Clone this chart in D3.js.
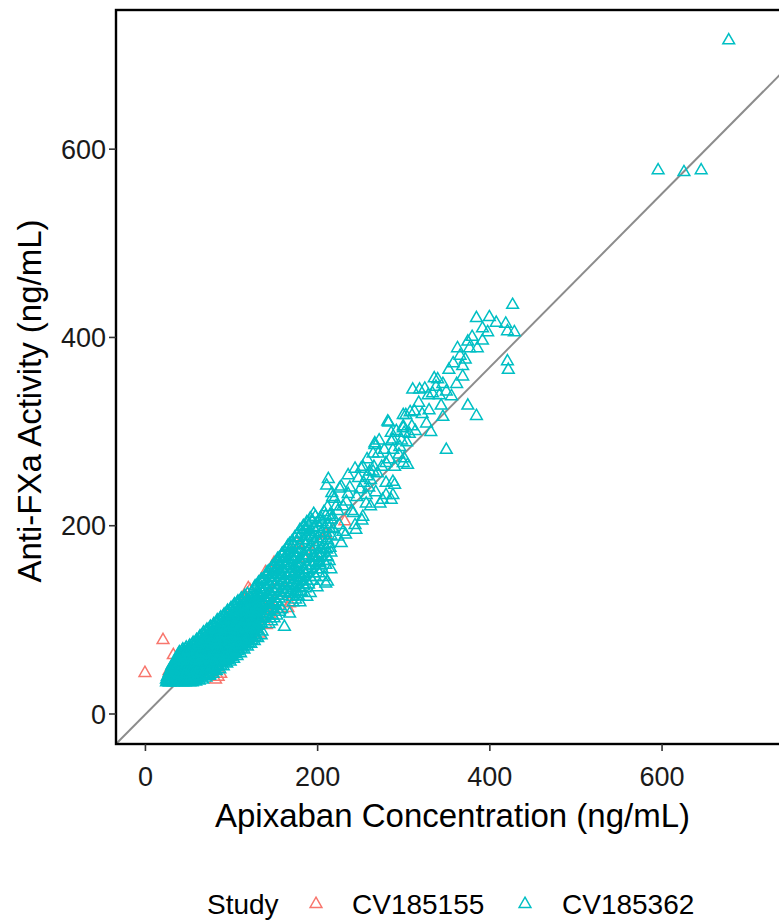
<!DOCTYPE html>
<html>
<head>
<meta charset="utf-8">
<script src="https://cdn.jsdelivr.net/npm/d3@7/dist/d3.min.js"></script>
<style>
  html, body { margin: 0; padding: 0; background: #fff; }
  svg { display: block; }
  text { font-family: "Liberation Sans", Arial, Helvetica, sans-serif; }
</style>
</head>
<body>
<svg id="chart" width="779" height="920"></svg>
<script>
// ---------------- DATA ----------------
const studies = ["CV185155", "CV185362"];
const studyColors = ["#F8766D", "#00BFC4"];
const xTicks = [0, 200, 400, 600];
const yTicks = [0, 200, 400, 600];
const xLabel = "Apixaban Concentration (ng/mL)";
const yLabel = "Anti-FXa Activity (ng/mL)";
const legendTitle = "Study";
const refSlope = 0.922;
const refIntercept = -1.4;

// CV185155 (red) [conc, activity]
const cv185155 = [
  [0,43],[21,78],[33,62],[28,45],[40,50],[79,43],[85,39],[82,36],[88,42],
  [122,131],[120,133],[168,117],[166,112],[141,94],[133,85],[176,181],[232,204],
  [60,45],[70,55],[95,70],[105,80],[110,72],[115,90],[125,88],[130,100],[150,110],
  [155,125],[160,140],[100,110],[90,95],[75,80],[65,70],[50,40],[45,55],[140,150],
  [145,105],[175,145],[185,165],[195,170],[210,190],[150,160],[115,120],[128,95],
  [135,118],[118,78],[92,60],[102,66]
];

// CV185362 (cyan), dense low-range band, odd columns: [conc, [activities]]
const cv185362BandA = [
  [25,[33,36]],[27,[34,40]],[29,[33,38,45]],[31,[35,42,50]],[33,[33,39,47]],
  [35,[36,44,52]],[37,[34,41,49,57]],[39,[33,38,46,55,63]],[41,[35,43,51,60]],
  [43,[34,40,48,58,66]],[45,[36,45,53,62]],[47,[33,41,50,59,68]],[49,[35,44,55,64]],
  [51,[34,40,49,58,70]],[53,[37,46,56,66]],[55,[33,43,52,61,73]],[57,[36,48,58,68]],
  [59,[34,42,53,63,76]],[61,[38,50,60,71]],[63,[35,46,56,66,80]],[65,[40,52,62,74]],
  [67,[36,47,59,69,84]],[69,[42,55,65,77]],[71,[38,50,61,72,87]],[73,[44,57,68,80]],
  [75,[40,53,64,75,90]],[77,[46,60,71,83]],[79,[42,55,67,78,93]],[81,[48,62,74,86]],
  [83,[45,58,70,81,96]],[85,[51,64,77,89]],[87,[47,60,73,85,100]],[89,[54,67,80,92]],
  [91,[50,63,76,88,103]],[93,[56,70,83,96]],[95,[53,66,79,91,107]],[97,[59,73,86,99]],
  [99,[55,69,82,95,110]],[101,[62,76,89,102]],[103,[58,72,85,98,114]],[105,[65,79,92,106]],
  [107,[61,75,88,101,117]],[109,[68,82,95,109]],[111,[64,78,91,104,120]],[113,[71,85,98,112]],
  [115,[68,81,94,108,123]],[117,[74,88,101,115]],[119,[71,84,97,111,127]],[121,[77,91,104,118]],
  [123,[74,87,100,114]],[125,[80,94,107,121]],[127,[77,90,103,117,133]],[129,[83,97,110,124]],
  [131,[80,93,106,120,137]],[133,[100,113,127]],[135,[83,96,109,123,140]],
  [138,[103,116,131,143]],[141,[106,120,134,147]],[144,[95,109,123,137,151]],
  [147,[98,112,126,140,154]],[150,[101,115,129,144,158]],[153,[104,118,132,147,161]],
  [156,[108,122,136,150,165]],[159,[111,125,139,153,169]],[162,[128,142,157,172]],
  [165,[131,146,160,176]],[168,[106,135,149,164,180]],[171,[124,138,153,167,183]],
  [174,[127,142,156,171,187]],[177,[130,145,160,175,190]],[180,[118,134,149,164,179,195]],
  [184,[137,153,168,184,199]],[188,[124,141,157,172,188,203]],[192,[128,145,161,177,193,207]],
  [196,[149,165,182,197,212]],[200,[134,153,170,186,202]],[204,[157,174,191,208]],
  [208,[145,162,179,196,214]],[212,[166,184,201,219]],[216,[153,171,189,206]]
];

// CV185362 (cyan), dense low-range band, even columns: [conc, [activities]]
const cv185362BandB = [
  [26,[35,39]],[28,[33,37,43]],[30,[34,40,47]],[32,[36,44,52]],[34,[34,41,49]],
  [36,[33,38,47,55]],[38,[36,43,51,60]],[40,[34,41,49,58,65]],[42,[37,46,54,63]],
  [44,[33,42,51,60,68]],[46,[38,47,56,65]],[48,[34,43,52,62,70]],[50,[37,47,57,67]],
  [52,[33,42,52,62,72]],[54,[39,49,59,69]],[56,[35,45,55,65,75]],[58,[40,51,61,72]],
  [60,[36,47,57,67,78]],[62,[42,53,64,75]],[64,[38,49,59,70,82]],[66,[44,55,66,78]],
  [68,[40,51,62,73,86]],[70,[46,58,69,81]],[72,[42,54,65,76,89]],[74,[48,60,72,84]],
  [76,[44,57,68,79,92]],[78,[50,63,75,87]],[80,[46,59,71,82,95]],[82,[52,66,78,90]],
  [84,[49,62,74,86,99]],[86,[55,68,81,93]],[88,[51,65,77,89,102]],[90,[58,71,84,96]],
  [92,[54,68,80,92,105]],[94,[61,74,87,100]],[96,[57,71,84,96,109]],[98,[64,77,90,103]],
  [100,[60,74,87,100,112]],[102,[67,80,94,107]],[104,[63,77,90,103,116]],[106,[70,84,97,110]],
  [108,[66,80,93,106,119]],[110,[73,87,100,113]],[112,[69,83,96,110,122]],[114,[76,90,103,116]],
  [116,[72,86,99,113,125]],[118,[79,93,106,120]],[120,[75,89,102,116]],[122,[82,96,109,123]],
  [124,[78,92,105,119]],[126,[85,99,112,126]],[128,[81,95,108,122,135]],[130,[88,102,115,129]],
  [132,[98,111,125,139]],[134,[105,118,132]],[136,[87,101,114,128,142]],
  [139,[109,123,137]],[142,[112,127,141,150]],[145,[101,116,130,145]],
  [148,[104,119,133,148,156]],[151,[108,122,137,152]],[154,[111,125,140,155,164]],
  [157,[114,129,144,159]],[160,[132,147,162,170]],[163,[135,150,166]],
  [166,[138,154,170,178]],[169,[127,142,158,174]],[172,[118,133,148,163,179]],
  [175,[121,136,151,166]],[178,[125,140,155,170,186]],[182,[129,144,159,174,191]],
  [186,[133,148,164,180,196]],[190,[137,152,168,184,200]],[194,[141,157,173,189,205]],
  [198,[145,161,177,193,209]],[202,[149,166,182,198]],[206,[153,170,186,203]],
  [210,[158,175,192,210]],[214,[162,180,197]]
];

// CV185362 (cyan), scattered points [conc, activity]
const cv185362Scatter = [
  [162,92],[184,140],[210,138],[149,117],[75,41],[212,140],
  [282,310],[300,317],[288,291],[267,287],[271,276],[300,303],[253,262],[265,257],
  [236,253],[211,242],[228,241],[288,246],[288,232],[276,227],[300,266],[257,232],
  [242,213],[222,220],[244,200],[215,211],[203,206],[188,195],[195,186],
  [228,181],[215,176],[203,170],[201,160],[211,167],[184,198],[170,177],[176,167],
  [159,167],[147,154],[157,147],[180,147],[135,142],[168,129],
  [427,434],[385,420],[400,421],[392,409],[419,414],[421,406],[429,405],[363,388],
  [375,395],[377,388],[386,388],[421,374],[422,365],[353,365],[369,369],[369,358],
  [336,356],[338,347],[311,344],[319,344],[329,338],[342,338],[356,337],[344,327],
  [375,327],[385,316],[313,321],[303,317],[283,309],[327,308],[332,299],[346,315],
  [300,305],[301,298],[307,297],[267,285],[286,289],[288,280],[296,283],[301,271],
  [305,264],[350,280],[251,260],[261,257],[213,249],
  [265,276],[280,266],[290,243],[286,227],[273,223],[257,223],[253,209],[245,195],
  [230,193],[217,234],[226,239],[230,220],[218,209],[211,174],[195,167],[203,160],
  [220,228],[224,215],[226,200],[234,225],[238,240],[240,215],[246,230],[248,250],
  [250,238],[254,245],[258,270],[260,240],[262,248],[266,262],[268,235],[270,255],
  [272,290],[275,262],[278,280],[280,245],[284,270],[286,298],[290,262],[292,300],
  [295,275],[298,290],[304,288],[308,320],[310,305],[314,300],[318,330],[322,318],
  [325,345],[330,322],[334,340],[340,355],[346,350],[350,342],[358,372],[362,350],
  [366,380],[372,376],[380,400],[392,396],[398,405],[408,415],[233,190],[252,205],
  [262,220],[280,232],[218,196],[224,188],[236,233],[244,260],[258,252],[218,230],
  [678,715],[596,577],[626,575],[646,577]
];

// ---------------- LAYOUT ----------------
const svg = d3.select("#chart");
const panel = { left: 116, right: 789, top: 10, bottom: 744 };

const x = d3.scaleLinear().domain([-33.6, 748]).range([panel.left, panel.right]);
const y = d3.scaleLinear().domain([-32.4, 747.3]).range([panel.bottom, panel.top]);

svg.append("defs").append("clipPath").attr("id", "clip")
  .append("rect")
  .attr("x", panel.left).attr("y", panel.top)
  .attr("width", panel.right - panel.left).attr("height", panel.bottom - panel.top);

const plot = svg.append("g").attr("clip-path", "url(#clip)");

// reference line
const xd = x.domain();
plot.append("line")
  .attr("x1", x(xd[0])).attr("y1", y(refIntercept + refSlope * xd[0]))
  .attr("x2", x(xd[1])).attr("y2", y(refIntercept + refSlope * xd[1]))
  .attr("stroke", "#8c8c8c").attr("stroke-width", 2);

// points
const tri = d3.symbol().type(d3.symbolTriangle).size(60);

const expandBand = band => band.flatMap(([cx, ys]) => ys.map(v => [cx, v]));
const redPts = cv185155;
const cyanPts = expandBand(cv185362BandA)
  .concat(expandBand(cv185362BandB))
  .concat(cv185362Scatter);

function drawPts(pts, color) {
  plot.append("g").selectAll("path").data(pts).enter().append("path")
    .attr("d", tri)
    .attr("transform", d => `translate(${x(d[0])},${y(d[1])})`)
    .attr("fill", "none")
    .attr("stroke", color)
    .attr("stroke-width", 1.5);
}
drawPts(redPts, studyColors[0]);
drawPts(cyanPts, studyColors[1]);

// panel border
svg.append("rect")
  .attr("x", panel.left).attr("y", panel.top)
  .attr("width", panel.right - panel.left).attr("height", panel.bottom - panel.top)
  .attr("fill", "none").attr("stroke", "#000").attr("stroke-width", 2.4);

// axes
const xAxis = d3.axisBottom(x).tickValues(xTicks).tickSize(7).tickPadding(6).tickSizeOuter(0);
const yAxis = d3.axisLeft(y).tickValues(yTicks).tickSize(7).tickPadding(4).tickSizeOuter(0);

const gx = svg.append("g").attr("transform", `translate(0,${panel.bottom})`).call(xAxis);
const gy = svg.append("g").attr("transform", `translate(${panel.left},0)`).call(yAxis);
[gx, gy].forEach(g => {
  g.select(".domain").remove();
  g.selectAll(".tick line").attr("stroke", "#333").attr("stroke-width", 1.6);
  g.selectAll(".tick text").attr("fill", "#1a1a1a").style("font-size", "27px")
    .style("font-family", "'Liberation Sans', Arial, sans-serif");
});
gx.selectAll(".tick text").attr("dy", null).attr("y", 42);
gy.selectAll(".tick text").attr("dy", "0.36em").attr("x", -10);

// axis titles
svg.append("text")
  .attr("x", (panel.left + panel.right) / 2).attr("y", 827)
  .attr("text-anchor", "middle").style("font-size", "33px").attr("fill", "#000")
  .text(xLabel);

svg.append("text")
  .attr("transform", "translate(41,401) rotate(-90)")
  .attr("text-anchor", "middle").style("font-size", "33px").attr("fill", "#000")
  .text(yLabel);

// legend
const lg = svg.append("g");
lg.append("text").attr("x", 207).attr("y", 914).style("font-size", "28px").attr("fill", "#000").text(legendTitle);
const legendItems = [
  { sx: 316, tx: 352 },
  { sx: 525, tx: 562 }
];
studies.forEach((s, i) => {
  lg.append("path").attr("d", tri)
    .attr("transform", `translate(${legendItems[i].sx},904)`)
    .attr("fill", "none").attr("stroke", studyColors[i]).attr("stroke-width", 1.5);
  lg.append("text").attr("x", legendItems[i].tx).attr("y", 914)
    .style("font-size", "28px").attr("fill", "#000").text(s);
});
</script>
</body>
</html>
